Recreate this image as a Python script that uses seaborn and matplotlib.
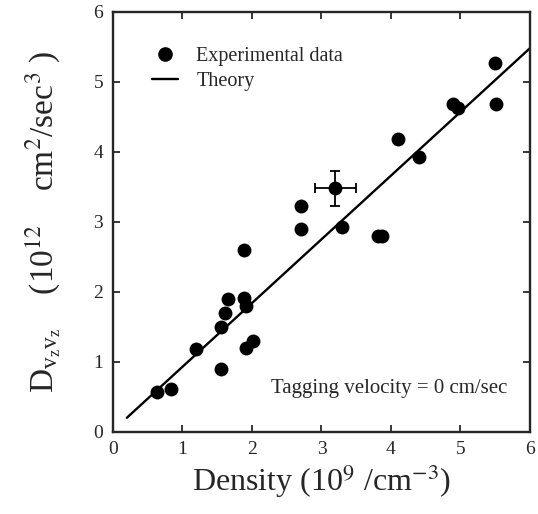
import numpy as np
import pandas as pd
import seaborn as sns
from matplotlib import pyplot as plt
from matplotlib.lines import Line2D

# Experimental points
density = [0.64, 0.83, 1.20, 1.56, 1.56, 1.61, 1.65, 1.89, 1.91, 1.89, 1.92, 2.02,
           2.70, 2.70, 3.20, 3.30, 3.82, 3.87, 4.10, 4.41, 4.90, 4.96, 5.50, 5.51]
diffusion = [0.57, 0.61, 1.18, 0.90, 1.50, 1.69, 1.90, 1.91, 1.80, 2.60, 1.19, 1.30,
             3.22, 2.89, 3.48, 2.93, 2.79, 2.79, 4.19, 3.93, 4.69, 4.62, 5.27, 4.69]

# point with error bars
err_x = [3.20]
err_y = [3.48]
err_dx = [0.30]
err_dy = [0.25]

# theory line
theory_x = [0.2, 6.0]
theory_y = [0.2, 5.48]

sns.set_style("ticks")
plt.rcParams["font.family"] = ["Liberation Serif", "DejaVu Serif"]
plt.rcParams["mathtext.fontset"] = "stix"

data = pd.DataFrame({"density": density, "D": diffusion})
theory = pd.DataFrame({"density": theory_x, "D": theory_y})

fig = plt.figure(figsize=(5.38, 5.14), dpi=100)
ax = fig.add_axes([0.210, 0.160, 0.775, 0.817])

sns.lineplot(data=theory, x="density", y="D", color="black", linewidth=1.7, ax=ax)
sns.scatterplot(data=data, x="density", y="D", color="black", s=100, edgecolor="black",
                linewidth=0, ax=ax, zorder=3)
ax.errorbar(err_x, err_y, xerr=err_dx, yerr=err_dy, fmt="none", ecolor="black",
            elinewidth=1.3, capsize=3.5, capthick=1.3)

ax.set_xlim(0, 6)
ax.set_ylim(0, 6)
ax.set_xticks(range(0, 7))
ax.set_yticks(range(0, 7))
ax.tick_params(direction="in", top=True, right=True, length=5, width=1.3,
               labelsize=14, pad=7)
for s in ax.spines.values():
    s.set_linewidth(1.7)

ax.set_xlabel(r"Density (10$^{9}$ /cm$^{-3}$)", fontsize=23, labelpad=3)
ax.set_ylabel(r"D$_{\mathregular{v_z v_z}}$    (10$^{12}$    cm$^{2}$/sec$^{3}$ )",
              fontsize=24, labelpad=22)

handles = [
    Line2D([], [], marker="o", color="black", linestyle="none", markersize=9.5),
    Line2D([], [], color="black", linewidth=1.7),
]
ax.legend(handles, ["Experimental data", "Theory"], loc="upper left",
          bbox_to_anchor=(0.05, 0.96), frameon=False, fontsize=14.5,
          handlelength=1.3, handletextpad=0.9, labelspacing=0.3)

ax.text(5.68, 0.62, "Tagging velocity = 0 cm/sec", ha="right", va="center", fontsize=15)

fig.savefig("out.png", dpi=100)
